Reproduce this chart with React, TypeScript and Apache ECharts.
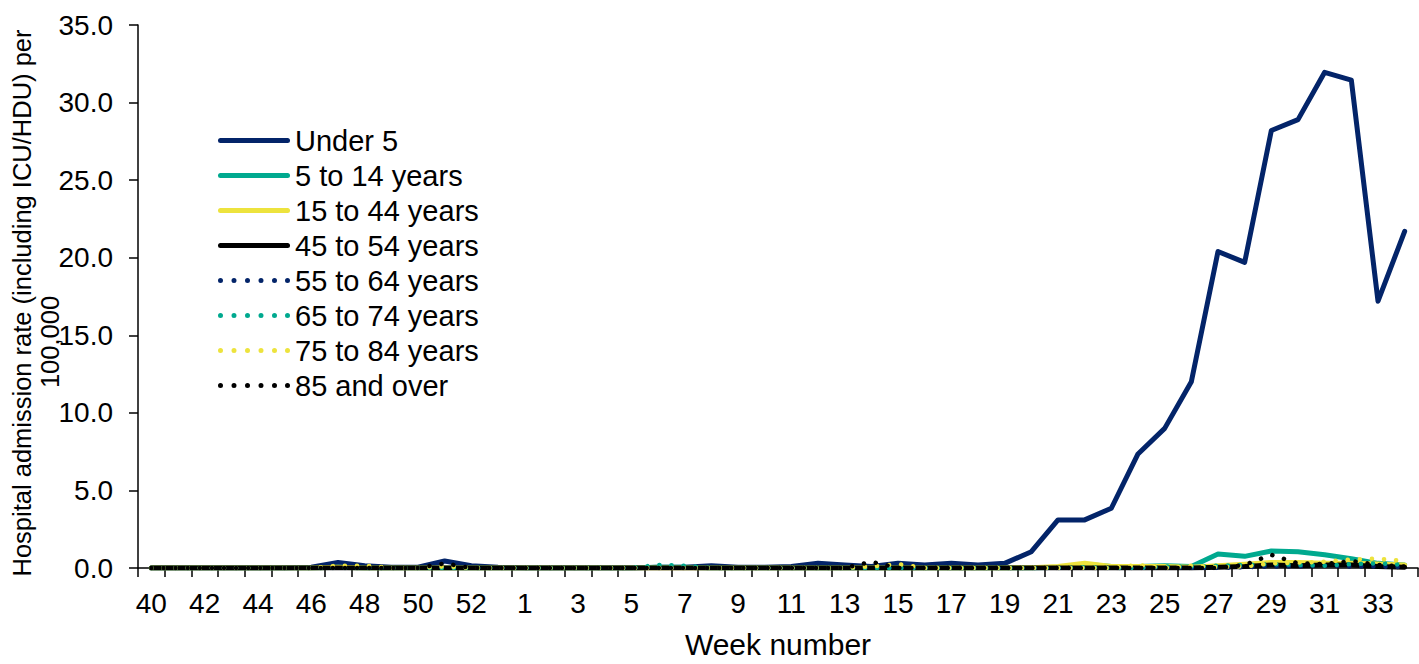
import React, { useEffect, useRef } from "react";
import * as echarts from "echarts";

// Week numbers: 2020 weeks 40-53, then 2021 weeks 1-34
const weeks = [
  "40", "41", "42", "43", "44", "45", "46", "47", "48", "49", "50", "51", "52", "53",
  "1", "2", "3", "4", "5", "6", "7", "8", "9", "10", "11", "12", "13", "14", "15", "16", "17",
  "18", "19", "20", "21", "22", "23", "24", "25", "26", "27", "28", "29", "30", "31", "32", "33", "34",
];

const yTicks = [0, 5, 10, 15, 20, 25, 30, 35];

//                 40    41    42    43    44    45    46    47    48    49    50    51    52    53
const under5 = [0.0, 0.0, 0.0, 0.0, 0.0, 0.0, 0.05, 0.35, 0.15, 0.05, 0.05, 0.45, 0.15, 0.05,
  // 1    2    3    4    5    6     7     8     9     10    11   12   13   14   15   16   17
  0.0, 0.0, 0.0, 0.0, 0.0, 0.05, 0.05, 0.15, 0.05, 0.05, 0.1, 0.3, 0.2, 0.1, 0.3, 0.2, 0.3,
  // 18  19   20    21   22   23    24    25   26    27    28    29    30    31     32     33    34
  0.2, 0.3, 1.05, 3.1, 3.1, 3.85, 7.35, 9.0, 12.0, 20.4, 19.7, 28.2, 28.9, 31.95, 31.45, 17.2, 21.7];

const age5to14 = [0, 0, 0, 0, 0, 0, 0, 0.05, 0, 0, 0, 0, 0, 0,
  0, 0, 0, 0, 0, 0.05, 0.05, 0, 0, 0, 0, 0, 0, 0, 0, 0, 0,
  0, 0, 0, 0.05, 0.25, 0.1, 0.1, 0.15, 0.1, 0.9, 0.75, 1.1, 1.05, 0.85, 0.6, 0.3, 0.2];

const age15to44 = [0, 0, 0, 0, 0, 0, 0, 0.05, 0, 0, 0, 0, 0, 0,
  0, 0, 0, 0, 0, 0, 0, 0, 0, 0, 0, 0, 0, 0, 0, 0, 0,
  0, 0, 0.02, 0.1, 0.3, 0.1, 0.1, 0.1, 0.05, 0.15, 0.25, 0.35, 0.35, 0.3, 0.3, 0.25, 0.2];

const age45to54 = [0, 0, 0, 0, 0, 0, 0, 0, 0, 0, 0, 0, 0, 0,
  0, 0, 0, 0, 0, 0, 0, 0, 0, 0, 0, 0, 0, 0, 0, 0, 0,
  0, 0, 0, 0, 0, 0, 0, 0, 0, 0.05, 0.1, 0.2, 0.15, 0.2, 0.2, 0.1, 0.05];

const age55to64 = [0, 0, 0, 0, 0, 0, 0, 0.05, 0, 0, 0, 0.05, 0, 0,
  0, 0, 0, 0, 0, 0, 0, 0, 0, 0, 0, 0, 0, 0, 0, 0, 0,
  0, 0, 0, 0, 0, 0, 0, 0.05, 0, 0, 0.05, 0.1, 0.1, 0.15, 0.1, 0.1, 0.05];

const age65to74 = [0, 0, 0, 0, 0, 0, 0, 0, 0, 0, 0, 0, 0, 0,
  0, 0, 0, 0, 0, 0.2, 0.15, 0, 0, 0, 0, 0, 0, 0, 0, 0, 0,
  0, 0, 0, 0, 0.05, 0, 0, 0.1, 0.1, 0.15, 0.2, 0.25, 0.2, 0.15, 0.25, 0.3, 0.2];

const age75to84 = [0, 0, 0, 0, 0, 0, 0, 0.15, 0.15, 0, 0, 0.1, 0, 0,
  0, 0, 0, 0, 0, 0, 0, 0, 0, 0, 0, 0, 0, 0.1, 0.25, 0, 0,
  0, 0, 0, 0, 0, 0, 0.2, 0, 0.15, 0.05, 0.1, 0.3, 0.35, 0.4, 0.55, 0.6, 0.45];

const age85plus = [0, 0, 0, 0, 0, 0, 0, 0, 0, 0, 0, 0.3, 0, 0,
  0, 0, 0, 0, 0, 0, 0, 0, 0, 0, 0, 0, 0, 0.4, 0, 0, 0,
  0, 0, 0, 0, 0, 0, 0, 0, 0, 0, 0.2, 0.85, 0.3, 0.25, 0.45, 0.2, 0.1];

const seriesNames = [
  "Under 5", "5 to 14 years", "15 to 44 years", "45 to 54 years",
  "55 to 64 years", "65 to 74 years", "75 to 84 years", "85 and over",
];

const NAVY = "#032469";
const TEAL = "#00A98F";
const YELLOW = "#EDE33D";
const BLACK = "#000000";

const FONT = "'Liberation Sans', Arial, Helvetica, sans-serif";
const FS = 28;

// legend icons (72 x 5 box): solid rounded bar, and six round dots
const SOLID_ICON = "path://M2.5,0 L69.5,0 A2.5,2.5 0 0 1 69.5,5 L2.5,5 A2.5,2.5 0 0 1 2.5,0 Z";
const dotAt = (cx: number) =>
  `M${cx - 2.5},2.5 A2.5,2.5 0 1 1 ${cx + 2.5},2.5 A2.5,2.5 0 1 1 ${cx - 2.5},2.5 Z`;
const DOT_ICON = "path://" + [2.5, 16, 29.5, 43, 56.5, 69.5].map(dotAt).join(" ");

export default function App() {
  const ref = useRef<HTMLDivElement>(null);

  useEffect(() => {
    if (!ref.current) return;
    const chart = echarts.init(ref.current, null, { renderer: "svg" });

    const mk = (name: string, data: number[], color: string, dotted: boolean) => ({
      name,
      type: "line",
      data,
      symbol: "none",
      showSymbol: false,
      lineStyle: {
        color,
        width: dotted ? 4.5 : 5,
        type: dotted ? [0.1, 12] : "solid",
        cap: "round",
        join: "round",
      },
      itemStyle: { color },
      emphasis: { disabled: true },
    });

    const series = [
      mk(seriesNames[0], under5, NAVY, false),
      mk(seriesNames[1], age5to14, TEAL, false),
      mk(seriesNames[2], age15to44, YELLOW, false),
      mk(seriesNames[3], age45to54, BLACK, false),
      mk(seriesNames[4], age55to64, NAVY, true),
      mk(seriesNames[5], age65to74, TEAL, true),
      mk(seriesNames[6], age75to84, YELLOW, true),
      mk(seriesNames[7], age85plus, BLACK, true),
    ];

    const colors = [NAVY, TEAL, YELLOW, BLACK, NAVY, TEAL, YELLOW, BLACK];

    chart.setOption({
      animation: false,
      backgroundColor: "#ffffff",
      textStyle: { fontFamily: FONT },
      grid: { left: 138, right: 1, top: 25, bottom: 91, containLabel: false },
      legend: {
        orient: "vertical",
        left: 218,
        top: 126,
        padding: 0,
        itemWidth: 72,
        itemHeight: 5,
        itemGap: 6,
        selectedMode: false,
        data: seriesNames.map((name, i) => ({
          name,
          icon: i < 4 ? SOLID_ICON : DOT_ICON,
          itemStyle: { color: colors[i], borderWidth: 0 },
        })),
        textStyle: { fontSize: 29, color: "#000", fontFamily: FONT },
      },
      xAxis: {
        type: "category",
        data: weeks,
        boundaryGap: true,
        name: "Week number",
        nameLocation: "middle",
        nameGap: 61,
        nameTextStyle: { fontSize: 30, color: "#000", fontFamily: FONT },
        axisLine: { show: true, lineStyle: { color: "#000", width: 1.5 } },
        axisTick: { show: true, interval: 0, length: 9, lineStyle: { color: "#000", width: 1.5 } },
        axisLabel: { interval: 1, margin: 21, fontSize: FS, color: "#000", fontFamily: FONT },
        splitLine: { show: false },
      },
      yAxis: {
        type: "value",
        min: yTicks[0],
        max: yTicks[yTicks.length - 1],
        interval: 5,
        axisLine: { show: true, lineStyle: { color: "#000", width: 1.5 } },
        axisTick: { show: true, length: 9, lineStyle: { color: "#000", width: 1.5 } },
        axisLabel: {
          margin: 25,
          fontSize: FS,
          color: "#000",
          fontFamily: FONT,
          formatter: (v: number) => v.toFixed(1),
        },
        splitLine: { show: false },
      },
      graphic: [
        {
          type: "text",
          x: 22,
          y: 303,
          rotation: Math.PI / 2,
          style: {
            text: "Hospital admission rate (including ICU/HDU) per",
            align: "center",
            verticalAlign: "middle",
            font: `25.5px ${FONT}`,
            fill: "#000",
          },
        },
        {
          type: "text",
          x: 50,
          y: 342,
          rotation: Math.PI / 2,
          style: {
            text: "100,000",
            align: "center",
            verticalAlign: "middle",
            font: `25.5px ${FONT}`,
            fill: "#000",
          },
        },
      ],
      series,
    });

    return () => chart.dispose();
  }, []);

  return (
    <div
      ref={ref}
      style={{ position: "fixed", left: 0, top: 0, width: 1419, height: 664, background: "#fff" }}
    />
  );
}
